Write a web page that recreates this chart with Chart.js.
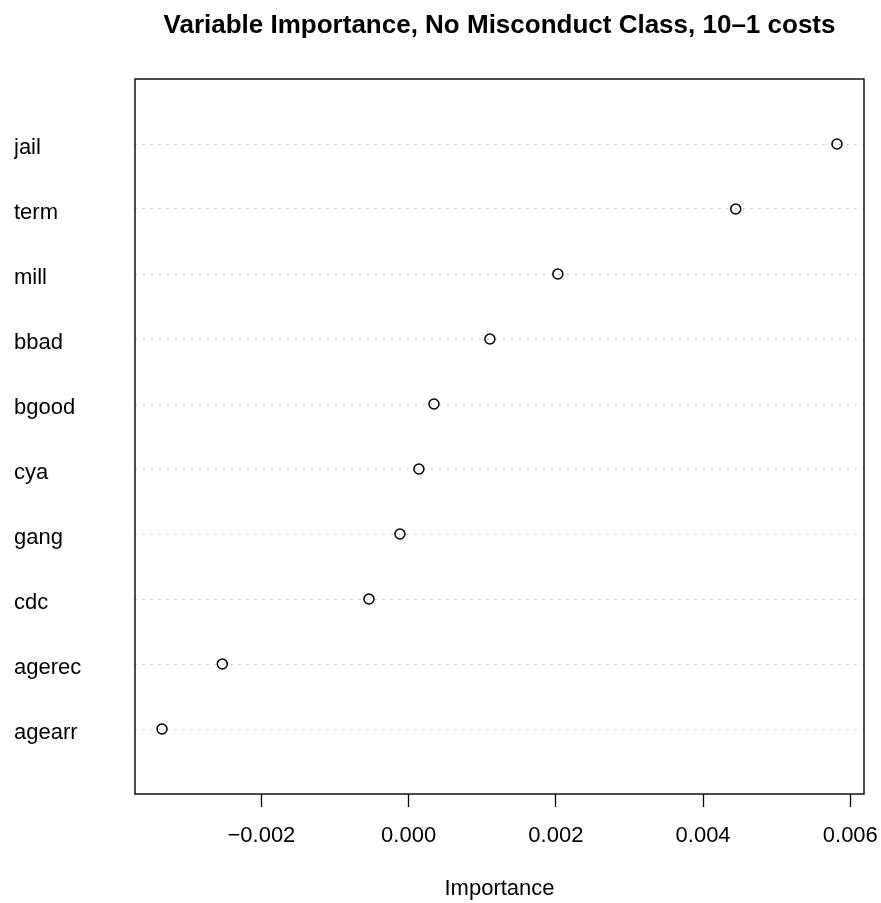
<!DOCTYPE html>
<html>
<head>
<meta charset="utf-8">
<script src="https://cdn.jsdelivr.net/npm/chart.js@4"></script>
<style>
  html, body { margin: 0; padding: 0; background: #fff; }
  #wrap { width: 881px; height: 903px; }
</style>
</head>
<body>
<div id="wrap"><canvas id="myChart" width="881" height="903"></canvas></div>
<script>
// variables, bottom to top as drawn
const variables = ['agearr', 'agerec', 'cdc', 'gang', 'cya', 'bgood', 'bbad', 'mill', 'term', 'jail'];
const importance = [-0.00335, -0.002531, -0.000539, -0.000118, 0.00014, 0.000344, 0.001104, 0.002027, 0.004444, 0.005819];
const xTickValues = [-0.002, 0.000, 0.002, 0.004, 0.006];
const xTickLabels = ['\u22120.002', '0.000', '0.002', '0.004', '0.006'];
const chartTitle = 'Variable Importance, No Misconduct Class, 10\u20131 costs';

document.addEventListener("DOMContentLoaded", myLoadEvent);

function myLoadEvent() {
    const ctx = document.getElementById('myChart');
    const font = 'Liberation Sans, Arial, Helvetica, sans-serif';

    // R-like frame around the plot region, plus the main title
    const framePlugin = {
        id: 'frame',
        afterDraw(chart) {
            const c = chart.ctx;
            const a = chart.chartArea;
            c.save();
            c.strokeStyle = '#000';
            c.lineWidth = 1.4;
            c.strokeRect(a.left, a.top, a.right - a.left, a.bottom - a.top);
            c.fillStyle = '#000';
            c.font = 'bold 26px ' + font;
            c.textAlign = 'center';
            c.textBaseline = 'alphabetic';
            c.fillText(chartTitle, (a.left + a.right) / 2, 33);
            c.restore();
        }
    };

    const points = importance.map((v, i) => ({ x: v, y: i + 1 }));

    new Chart(ctx, {
        type: 'scatter',
        data: {
            datasets: [{
                data: points,
                pointRadius: 5,
                pointHoverRadius: 5,
                pointBorderWidth: 1.5,
                pointBorderColor: '#000',
                pointBackgroundColor: 'rgba(0,0,0,0)'
            }]
        },
        options: {
            responsive: false,
            animation: false,
            layout: { padding: { left: 14, right: 17, top: 79, bottom: 0 } },
            plugins: {
                legend: { display: false },
                tooltip: { enabled: false },
                title: { display: false }
            },
            scales: {
                x: {
                    type: 'linear',
                    min: -0.003717,
                    max: 0.006186,
                    afterBuildTicks: (scale) => {
                        scale.ticks = xTickValues.map(v => ({ value: v }));
                    },
                    afterFit: (scale) => {
                        scale.height = 109;
                        // let the last label hang past the frame, like R
                        scale.paddingLeft = 0;
                        scale.paddingRight = 0;
                    },
                    border: { display: false },
                    grid: {
                        drawOnChartArea: false,
                        drawTicks: true,
                        tickLength: 13,
                        tickColor: '#000',
                        tickWidth: 1.3
                    },
                    ticks: {
                        color: '#000',
                        font: { family: font, size: 22 },
                        padding: 16,
                        maxRotation: 0,
                        autoSkip: false,
                        callback: (v) => {
                            const i = xTickValues.findIndex(t => Math.abs(t - v) < 1e-9);
                            return i >= 0 ? xTickLabels[i] : '';
                        }
                    },
                    title: {
                        display: true,
                        text: 'Importance',
                        color: '#000',
                        font: { family: font, size: 22 },
                        padding: { top: 0, bottom: 1 }
                    }
                },
                y: {
                    type: 'linear',
                    min: 0,
                    max: 11,
                    afterBuildTicks: (scale) => {
                        scale.ticks = variables.map((v, i) => ({ value: i + 1 }));
                    },
                    afterFit: (scale) => {
                        scale.width = 121;
                        scale.paddingTop = 0;
                        scale.paddingBottom = 0;
                    },
                    border: { display: false, dash: [1.5, 6.5] },
                    grid: {
                        drawTicks: false,
                        color: '#b8b8b8',
                        lineWidth: 1
                    },
                    ticks: {
                        color: '#000',
                        font: { family: font, size: 22 },
                        crossAlign: 'far',
                        labelOffset: 4,
                        autoSkip: false,
                        callback: (v) => variables[Math.round(v) - 1] || ''
                    }
                }
            }
        },
        plugins: [framePlugin]
    });
}
</script>
</body>
</html>
